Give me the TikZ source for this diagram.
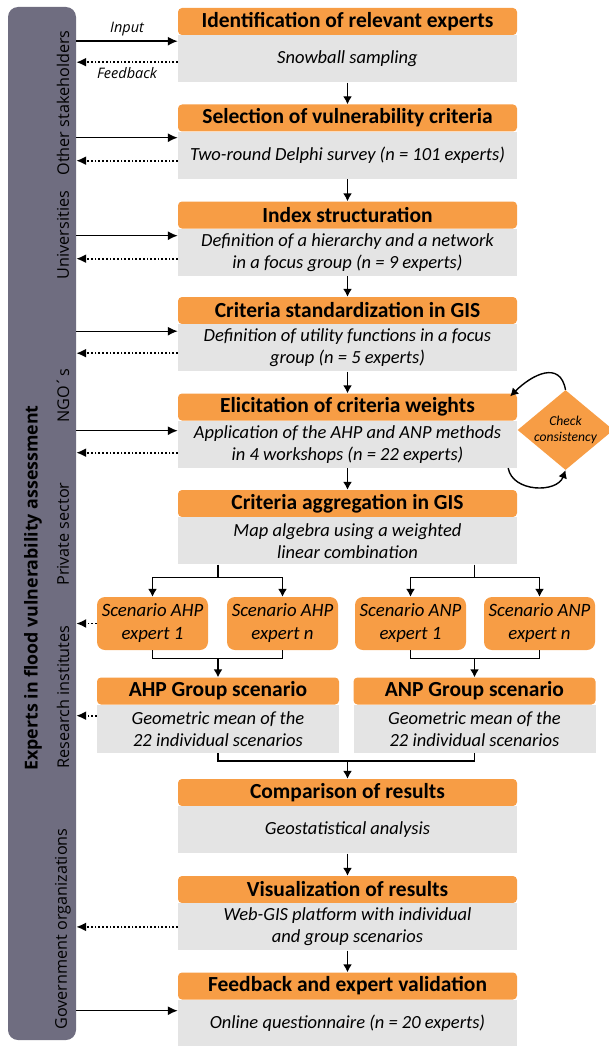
\documentclass[tikz,border=0pt]{standalone}
\usepackage{fontspec}
\setmainfont{Carlito}
\newfontfamily\sidefont{Open Sans}
\usetikzlibrary{arrows.meta, positioning, shapes.geometric}
\definecolor{steporange}{HTML}{F79D45}
\definecolor{stepgrey}{HTML}{E4E4E4}
\definecolor{sidegrey}{HTML}{6F6D80}

\begin{document}
\begin{tikzpicture}[
        x=1pt, y=-1pt,
        head/.style={fill=steporange, rounded corners=4pt, minimum width=339pt, minimum height=27pt, inner sep=0pt, font=\fontsize{21.5}{22}\selectfont\bfseries},
        body/.style={fill=stepgrey, minimum width=339pt, minimum height=47pt, inner sep=0pt, align=center, font=\fontsize{18.5}{22}\selectfont\itshape},
        grouphead/.style={head, minimum width=242pt},
        groupbody/.style={body, minimum width=242pt, minimum height=48pt},
        scenario/.style={fill=steporange, rounded corners=8pt, minimum width=111pt, minimum height=53pt, inner sep=0pt, align=center, font=\fontsize{18.8}{23}\selectfont\itshape},
        decision/.style={diamond, aspect=1.2, fill=steporange, minimum width=85pt, minimum height=70pt, inner sep=0pt, align=center, font=\fontsize{13.6}{16}\selectfont\itshape},
        sidetitle/.style={rotate=90, text=black, font=\sidefont\fontsize{17.8}{20}\selectfont\bfseries},
        sidegroup/.style={rotate=90, text=black, font=\sidefont\fontsize{16.2}{18}\selectfont},
        flow/.style={draw, line width=1.4pt, -{Latex[length=8pt,width=9pt]}},
        inarrow/.style={draw, line width=1.4pt, -{Latex[length=10pt,width=9pt]}},
        fbarrow/.style={draw, line width=1.7pt, dotted, -{Latex[length=10pt,width=9pt]}},
        arrowtext/.style={font=\sidefont\fontsize{14.5}{16}\selectfont\itshape}
        ]

        \useasboundingbox (0,0) rectangle (608,1046);

        % side bar with the groups of experts
        \node [fill=sidegrey, rounded corners=10pt, minimum width=68pt, minimum height=1033pt, inner sep=0pt] (side) at (42,523.5) {};
        \node [sidetitle] (experts) at (33,588) {Experts in flood vulnerability assessment};
        \node [sidegroup] (others) at (63,103) {Other stakeholders};
        \node [sidegroup] (univ) at (63,235) {Universities};
        \node [sidegroup] (ngo) at (63,396) {NGO´s};
        \node [sidegroup] (private) at (63,534) {Private sector};
        \node [sidegroup] (research) at (63,697) {Research institutes};
        \node [sidegroup] (gov) at (63,929) {Government organizations};

        % main steps
        \node [head] (ident) at (347.5,21.5) {Identification of relevant experts};
        \node [body, below=0pt of ident] (identb) {Snowball sampling};

        \node [head] (select) at (347.5,118) {Selection of vulnerability criteria};
        \node [body, below=0pt of select] (selectb) {Two-round Delphi survey (n = 101 experts)};

        \node [head] (index) at (347.5,215) {Index structuration};
        \node [body, below=0pt of index] (indexb) {Definition of a hierarchy and a network\\in a focus group (n = 9 experts)};

        \node [head] (stand) at (347.5,310.5) {Criteria standardization in GIS};
        \node [body, below=0pt of stand] (standb) {Definition of utility functions in a focus\\group (n = 5 experts)};

        \node [head] (elicit) at (347.5,407) {Elicitation of criteria weights};
        \node [body, below=0pt of elicit] (elicitb) {Application of the AHP and ANP methods\\in 4 workshops (n = 22 experts)};

        \node [head] (aggr) at (347.5,503.5) {Criteria aggregation in GIS};
        \node [body, below=0pt of aggr] (aggrb) {Map algebra using a weighted\\linear combination};

        % individual and group scenarios
        \node [scenario] (ahpone) at (152.5,623.5) {Scenario AHP\\expert 1};
        \node [scenario] (ahpn) at (282.5,623.5) {Scenario AHP\\expert n};
        \node [scenario] (anpone) at (410.5,623.5) {Scenario ANP\\expert 1};
        \node [scenario] (anpn) at (539.5,623.5) {Scenario ANP\\expert n};

        \node [grouphead] (ahpgroup) at (218,691) {AHP Group scenario};
        \node [groupbody, below=0pt of ahpgroup] (ahpgroupb) {Geometric mean of the\\22 individual scenarios};
        \node [grouphead] (anpgroup) at (474.5,691) {ANP Group scenario};
        \node [groupbody, below=0pt of anpgroup] (anpgroupb) {Geometric mean of the\\22 individual scenarios};

        \node [head] (comp) at (347.5,792.5) {Comparison of results};
        \node [body, below=0pt of comp] (compb) {Geostatistical analysis};

        \node [head] (visual) at (347.5,889.5) {Visualization of results};
        \node [body, below=0pt of visual] (visualb) {Web-GIS platform with individual\\and group scenarios};

        \node [head] (valid) at (347.5,986) {Feedback and expert validation};
        \node [body, below=0pt of valid] (validb) {Online questionnaire (n = 20 experts)};

        \node [decision] (check) at (565.5,430) {Check\\consistency};

        % flow between the steps
        \draw [flow] (identb) -- (select);
        \draw [flow] (selectb) -- (index);
        \draw [flow] (indexb) -- (stand);
        \draw [flow] (standb) -- (elicit);
        \draw [flow] (elicitb) -- (aggr);

        \draw [line width=1.4pt] (aggrb.south -| ahpgroup.north) -- ++(0,13) coordinate (ahpsplit);
        \draw [flow] (ahpsplit) -| (ahpone.north);
        \draw [flow] (ahpsplit) -| (ahpn.north);
        \draw [line width=1.4pt] (aggrb.south -| anpgroup.north) -- ++(0,13) coordinate (anpsplit);
        \draw [flow] (anpsplit) -| (anpone.north);
        \draw [flow] (anpsplit) -| (anpn.north);

        \draw [line width=1.4pt] (ahpone.south) -- ++(0,8) -| (ahpn.south);
        \draw [flow] ([yshift=-8pt]ahpone.south -| ahpgroup.north) -- (ahpgroup.north);
        \draw [line width=1.4pt] (anpone.south) -- ++(0,8) -| (anpn.south);
        \draw [flow] ([yshift=-8pt]anpone.south -| anpgroup.north) -- (anpgroup.north);

        \draw [line width=1.4pt] (ahpgroupb.south) -- ++(0,8) -| (anpgroupb.south);
        \draw [flow] ([yshift=-8pt]ahpgroupb.south -| comp.north) -- (comp.north);
        \draw [flow] (compb) -- (visual);
        \draw [flow] (visualb) -- (valid);

        % consistency loop
        \draw [flow] (check.north) to[out=100, in=45, looseness=1.4] ([xshift=-7pt,yshift=-3pt]elicit.north east);
        \draw [flow] ([xshift=-9pt]elicitb.south east) to[out=-80, in=-110, looseness=1.1] (check.south);

        % input and feedback of the experts
        \draw [inarrow] ([yshift=-6pt]identb.north west -| side.east) -- node [arrowtext, above=1pt] (input) {Input} ([yshift=-6pt]identb.north west);
        \draw [fbarrow] ([yshift=-27pt]identb.north west) -- node [arrowtext, below=1pt] (feedback) {Feedback} ([yshift=-27pt]identb.north west -| side.east);
        \draw [inarrow] ([yshift=-6pt]selectb.north west -| side.east) -- ([yshift=-6pt]selectb.north west);
        \draw [fbarrow] ([yshift=-29pt]selectb.north west) -- ([yshift=-29pt]selectb.north west -| side.east);
        \draw [inarrow] ([yshift=-7pt]indexb.north west -| side.east) -- ([yshift=-7pt]indexb.north west);
        \draw [fbarrow] ([yshift=-30pt]indexb.north west) -- ([yshift=-30pt]indexb.north west -| side.east);
        \draw [inarrow] ([yshift=-7pt]standb.north west -| side.east) -- ([yshift=-7pt]standb.north west);
        \draw [fbarrow] ([yshift=-29pt]standb.north west) -- ([yshift=-29pt]standb.north west -| side.east);
        \draw [inarrow] ([yshift=-10pt]elicitb.north west -| side.east) -- ([yshift=-10pt]elicitb.north west);
        \draw [fbarrow] ([yshift=-32pt]elicitb.north west) -- ([yshift=-32pt]elicitb.north west -| side.east);
        \draw [fbarrow] (ahpone.west) -- (ahpone.west -| side.east);
        \draw [fbarrow] ([yshift=-11pt]ahpgroupb.north west) -- ([yshift=-11pt]ahpgroupb.north west -| side.east);
        \draw [fbarrow] (visualb.west) -- (visualb.west -| side.east);
        \draw [inarrow] ([yshift=-11pt]validb.north west -| side.east) -- ([yshift=-11pt]validb.north west);
    \end{tikzpicture}
\end{document}
